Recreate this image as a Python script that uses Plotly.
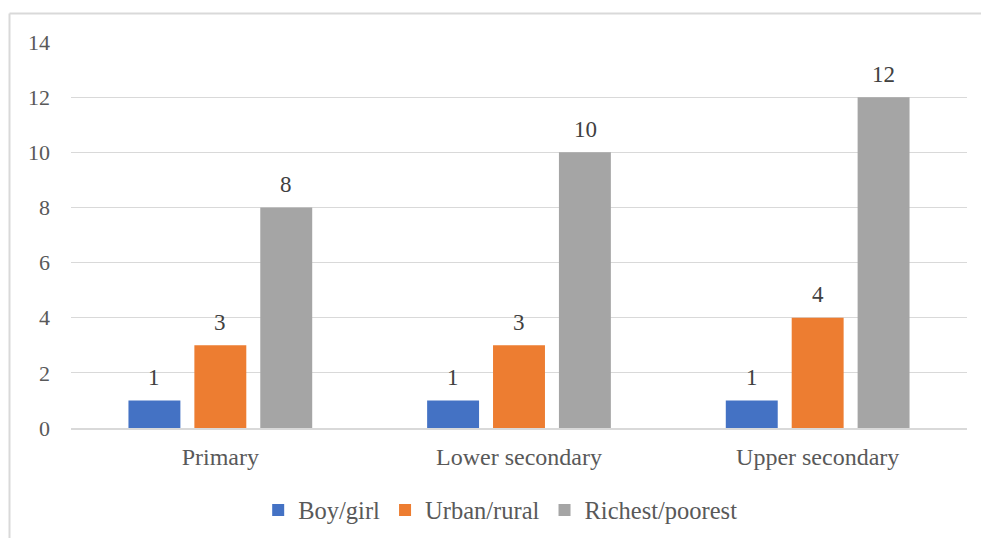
import plotly.graph_objects as go

categories = ["Primary", "Lower secondary", "Upper secondary"]
series_names = ["Boy/girl", "Urban/rural", "Richest/poorest"]
boy_girl = [1, 1, 1]
urban_rural = [3, 3, 4]
richest_poorest = [8, 10, 12]
colors = ["#4472C4", "#ED7D31", "#A5A5A5"]
y_ticks = [0, 2, 4, 6, 8, 10, 12, 14]

W, H = 981, 538
ml, mr, mt, mb = 71, 14, 42, 110
FONT = "'Liberation Serif', 'Times New Roman', serif"
TXT = "#595959"

fig = go.Figure()
all_series = [boy_girl, urban_rural, richest_poorest]
for name, vals, c in zip(series_names, all_series, colors):
    fig.add_trace(go.Bar(
        x=categories, y=vals, name=name, marker=dict(color=c, line=dict(width=0)),
    ))

# data labels placed above each bar
slot_px = 66
for si, vals in enumerate(all_series):
    for cat, v in zip(categories, vals):
        fig.add_annotation(
            x=cat, y=v, xref="x", yref="y", text=str(v), showarrow=False,
            xshift=(si - 1) * slot_px, yshift=23, yanchor="middle",
            font=dict(family=FONT, size=23, color="#404040"),
        )

pw = W - ml - mr
ph = H - mt - mb
def px2x(px):
    return (px - ml) / pw
def py2y(py):
    return 1 - (py - mt) / ph

fig.update_layout(
    width=W, height=H,
    margin=dict(l=ml, r=mr, t=mt, b=mb, autoexpand=False),
    paper_bgcolor="white", plot_bgcolor="white",
    barmode="group", bargap=0.338, bargroupgap=0.212,
    font=dict(family=FONT, size=23, color=TXT),
    xaxis=dict(showgrid=False, showline=True, linecolor="#D9D9D9", linewidth=1.5,
               ticks="", tickfont=dict(family=FONT, size=24, color=TXT),
               ticklabelstandoff=6, automargin=False),
    yaxis=dict(range=[0, 14], tickvals=y_ticks, showgrid=True, gridcolor="#D9D9D9",
               gridwidth=1.3, zeroline=False, showline=False, ticks="",
               tickfont=dict(family=FONT, size=22, color=TXT), ticklabelstandoff=20,
               automargin=False),
    showlegend=True,
    legend=dict(orientation="h", x=0.479, xanchor="center", y=py2y(510), yanchor="middle",
                font=dict(family=FONT, size=24.5, color=TXT), itemwidth=30,
                traceorder="normal"),
    shapes=[
        dict(type="line", xref="paper", yref="paper", x0=px2x(9.5), x1=px2x(990),
             y0=py2y(13.5), y1=py2y(13.5), line=dict(color="#D9D9D9", width=2)),
        dict(type="line", xref="paper", yref="paper", x0=px2x(9.5), x1=px2x(9.5),
             y0=py2y(13.5), y1=py2y(545), line=dict(color="#D9D9D9", width=2)),
    ],
)

fig.write_html("out.html", config={"displayModeBar": False},
               post_script="document.body.style.margin='0';document.body.style.padding='0';")
